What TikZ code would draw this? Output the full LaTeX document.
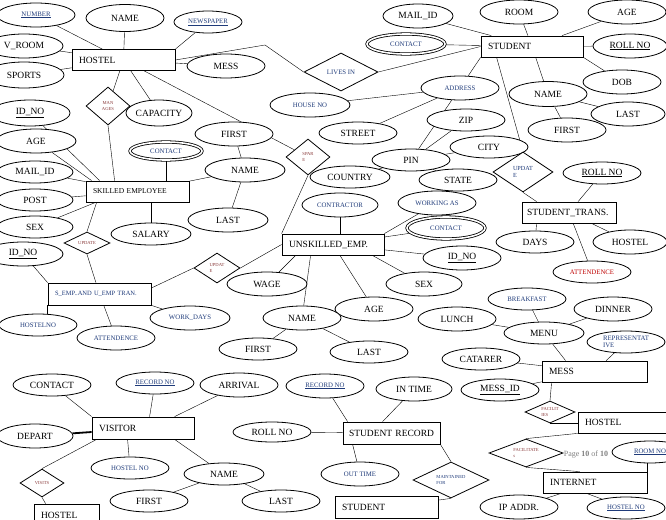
\documentclass[tikz,border=0pt]{standalone}
\usepackage{fontspec}
\setmainfont{Liberation Serif}
\usepackage{tikz}
\usetikzlibrary{shapes.geometric, backgrounds}

\definecolor{attrblue}{HTML}{1F3B7A}
\definecolor{relred}{HTML}{8A3B3B}
\newcommand{\attrfont}{\fontsize{9.5}{10}\selectfont}
\newcommand{\smallattrfont}{\fontsize{6.8}{7.5}\selectfont}
\newcommand{\relfont}{\fontsize{4.6}{5.5}\selectfont}

\begin{document}
\begin{tikzpicture}[
        x=1pt, y=-1pt,
        line width=0.8pt,
        attr/.style={ellipse, draw, fill=white, minimum width=78, minimum height=24, inner sep=0pt, font=\attrfont},
        sattr/.style={attr, font=\smallattrfont, text=attrblue},
        multi/.style={double, double distance=1.6pt},
        ent/.style={rectangle, draw, fill=white, minimum height=21, inner xsep=7pt, inner ysep=0pt, text width=#1, align=left, font=\attrfont},
        rel/.style={diamond, draw, fill=white, aspect=2, inner sep=0pt, align=center, font=\relfont, text=relred}]

    \useasboundingbox (0,0) rectangle (666,519);

    \node [sattr]                                       (number)    at (36,15)    {\underline{NUMBER}};
    \node [attr, minimum height=27]                     (hname)     at (125,18)   {NAME};
    \node [sattr, minimum width=68, minimum height=22]  (newspaper) at (208,22)   {\underline{NEWSPAPER}};
    \node [attr]                                        (vroom)     at (24,46)    {V\_ROOM};
    \node [attr, minimum width=80, minimum height=26]   (sports)    at (24,75)    {SPORTS};
    \node [ent=89pt]                                    (hostel)    at (123.5,60) {HOSTEL};
    \node [attr]                                        (hmess)     at (226,66)   {MESS};
    \node [rel, minimum width=44, minimum height=38]    (manages)   at (108,106)  {MAN\\AGES};
    \node [attr, minimum width=66, minimum height=26]   (capacity)  at (159,113)  {CAPACITY};
    \node [attr, minimum width=80, minimum height=26]   (idno1)     at (30,113)   {\underline{ID\_NO}};
    \coordinate (livesbend) at (265,45);

    \node [attr, minimum width=70]                      (mailid)    at (418,16)   {MAIL\_ID};
    \node [sattr, multi, minimum height=20]             (scontact)  at (406,44)   {CONTACT};
    \node [rel, text=attrblue, font=\smallattrfont, minimum width=74, minimum height=38] (livesin) at (341,72) {LIVES IN};
    \node [sattr, minimum width=80]                     (houseno)   at (310,105)  {HOUSE NO};
    \node [sattr]                                       (address)   at (460,88)   {ADDRESS};
    \node [attr]                                        (room)      at (519,12)   {ROOM};
    \node [attr]                                        (sage)      at (627,12)   {AGE};
    \node [ent=88pt]                                    (student)   at (532,46.5) {STUDENT};
    \node [attr, minimum width=74]                      (rollno)    at (630,46)   {\underline{ROLL NO}};
    \node [attr]                                        (dob)       at (622,82)   {DOB};
    \node [attr, minimum height=25]                     (sname)     at (548,94)   {NAME};
    \node [attr, minimum width=74]                      (slast)     at (628,114)  {LAST};
    \node [attr]                                        (sfirst)    at (567,130)  {FIRST};
    \node [attr, minimum height=22]                     (zip)       at (466,120)  {ZIP};
    \node [attr, minimum height=22]                     (street)    at (358,133)  {STREET};
    \node [attr, minimum height=22]                     (city)      at (489,147)  {CITY};
    \node [attr, minimum height=22]                     (pin)       at (411,160)  {PIN};
    \node [attr, minimum width=80, minimum height=22]   (country)   at (350,177)  {COUNTRY};
    \node [attr, minimum height=22]                     (state)     at (458,180)  {STATE};

    \node [attr, minimum width=80]                      (age1)      at (36,141)   {AGE};
    \node [attr, minimum width=76, minimum height=22]   (mail1)     at (35,172)   {MAIL\_ID};
    \node [attr, minimum width=76, minimum height=22]   (post)      at (35,200)   {POST};
    \node [attr, minimum width=76, minimum height=22]   (sex1)      at (35,227)   {SEX};
    \node [ent=89pt, font=\fontsize{7.5}{8}\selectfont] (skilled)   at (137.5,191.5) {\mbox{SKILLED EMPLOYEE}};
    \node [sattr, multi, minimum width=72, minimum height=18] (kcontact) at (166,151) {CONTACT};
    \node [attr, minimum width=80, minimum height=22]   (salary)    at (151,234)  {SALARY};
    \node [attr]                                        (kfirst)    at (234,134)  {FIRST};
    \node [attr, minimum width=80]                      (kname)     at (245,170)  {NAME};
    \node [attr, minimum width=80]                      (klast)     at (228,220)  {LAST};
    \node [rel, minimum width=46, minimum height=22]    (update1)   at (87,243)   {UPDATE};

    \node [rel, align=left, minimum width=44, minimum height=36] (spare) at (308,157) {SPAR\\E};
    \node [sattr, minimum width=76]                     (contractor) at (340,205) {CONTRACTOR};
    \node [ent=88pt]                                    (unskilled) at (333,244.5) {\mbox{UNSKILLED\_EMP.}};
    \node [sattr]                                       (workingas) at (437,203)  {WORKING AS};
    \node [sattr, multi, minimum height=22]             (ucontact)  at (446,228)  {CONTACT};
    \node [attr]                                        (idno2)     at (462,258)  {\underline{ID\_NO}};
    \node [attr, minimum width=76]                      (usex)      at (424,284)  {SEX};
    \node [attr]                                        (uage)      at (374,309)  {AGE};
    \node [attr]                                        (uname)     at (302,318)  {NAME};
    \node [attr, minimum height=22]                     (ufirst)    at (258,349)  {FIRST};
    \node [attr, minimum height=22]                     (ulast)     at (369,352)  {LAST};
    \node [attr, minimum width=80]                      (wage)      at (267,284)  {WAGE};
    \node [rel, align=left, minimum width=46, minimum height=30] (update2) at (217,268) {UPDAT\\E};

    \node [attr, minimum width=80]                      (idno3)     at (23,254)   {\underline{ID\_NO}};
    \node [ent=89pt, font=\fontsize{6.5}{7}\selectfont, text=attrblue, minimum height=22] (semp) at (99.5,294) {\mbox{S\_EMP..AND U\_EMP TRAN.}};
    \node [sattr, minimum height=22]                    (hostelno1) at (38,325)   {HOSTELNO};
    \node [sattr]                                       (attend1)   at (116,338)  {ATTENDENCE};
    \node [sattr, minimum width=80]                     (workdays)  at (190,318)  {WORK\_DAYS};

    \node [rel, align=left, text=attrblue, font=\fontsize{6.2}{7}\selectfont, minimum width=60, minimum height=40] (update3) at (523,172) {UPDAT\\E};
    \node [attr, minimum height=22]                     (rollno2)   at (602,173)  {\underline{ROLL NO}};
    \node [ent=84pt, inner xsep=5pt]                    (strans)    at (569,212.5) {\mbox{STUDENT\_TRANS.}};
    \node [attr, minimum height=22]                     (days)      at (535,242)  {DAYS};
    \node [attr, minimum width=74]                      (thostel)   at (630,242)  {HOSTEL};
    \node [sattr, text=red!75!black, minimum height=22] (attend2)   at (592,272)  {ATTENDENCE};

    \node [sattr, minimum height=22]                    (breakfast) at (527,299)  {BREAKFAST};
    \node [attr]                                        (dinner)    at (613,309)  {DINNER};
    \node [attr]                                        (lunch)     at (457,319)  {LUNCH};
    \node [attr, minimum width=80, minimum height=22]   (menu)      at (544,333)  {MENU};
    \node [sattr, minimum height=22, align=left]        (repr)      at (626,342)  {REPRESENTAT\\IVE};
    \node [attr, minimum height=22]                     (catarer)   at (481,359)  {CATARER};
    \node [ent=91pt]                                    (mess)      at (594.5,371.5) {MESS};
    \node [attr, minimum height=22]                     (messid)    at (500,390)  {\underline{MESS\_ID}};
    \node [rel, align=left, minimum width=50, minimum height=22] (facilit) at (550,412) {FACILIT\\IES};
    \node [ent=76pt]                                    (bhostel)   at (623,422.5) {HOSTEL};
    \node [rel, align=left, minimum width=74, minimum height=28] (facilitates) at (526,453) {FACILITATE\\s};
    \node [text=gray, font=\fontsize{8}{9}\selectfont, inner sep=0pt] (pagenum) at (586,455) {Page \textbf{10} of \textbf{10}};
    \node [sattr, minimum width=76, minimum height=22]  (roomno)    at (650,452)  {\underline{ROOM NO}};
    \node [ent=90pt]                                    (internet)  at (595,482.5) {INTERNET};
    \node [attr]                                        (ipaddr)    at (519,507)  {IP ADDR.};
    \node [sattr, minimum height=22]                    (hostelno3) at (626,508)  {\underline{HOSTEL NO}};

    \node [sattr]                                       (recno2)    at (325,386)  {\underline{RECORD NO}};
    \node [attr, minimum width=76]                      (intime)    at (414,389)  {IN TIME};
    \node [attr, minimum height=20]                     (rollno3)   at (272,432)  {ROLL NO};
    \node [ent=85pt, inner xsep=6pt, minimum height=22] (srecord)   at (391.5,433) {\mbox{STUDENT RECORD}};
    \node [sattr]                                       (outtime)   at (360,474)  {OUT TIME};
    \node [rel, align=left, text=attrblue, minimum width=76, minimum height=36] (maintained) at (451,480) {MAINTAINED\\FOR};
    \node [ent=89pt, minimum height=22]                 (bstudent)  at (386.5,507) {STUDENT};

    \node [attr, minimum height=22]                     (vcontact)  at (52,385)   {CONTACT};
    \node [sattr, minimum height=22]                    (recno1)    at (155,383)  {\underline{RECORD NO}};
    \node [attr]                                        (arrival)   at (239,385)  {ARRIVAL};
    \node [ent=88pt, minimum height=22]                 (visitor)   at (143,428)  {VISITOR};
    \node [attr, minimum width=76]                      (depart)    at (35,436)   {DEPART};
    \node [sattr, minimum height=22]                    (vhostelno) at (130,468)  {HOSTEL NO};
    \node [rel, minimum width=44, minimum height=28]    (visits)    at (42,483)   {VISITS};
    \node [ent=51pt, minimum height=22]                 (vhostel)   at (66.5,515) {HOSTEL};
    \node [attr, minimum width=80, minimum height=22]   (vname)     at (224,474)  {NAME};
    \node [attr, minimum height=22]                     (vfirst)    at (149,501)  {FIRST};
    \node [attr, minimum height=22]                     (vlast)     at (281,501)  {LAST};

    \begin{scope}[on background layer]
        \path (hostel) edge (number) edge (hname) edge (vroom) edge (sports)
                       edge (hmess) edge (manages) edge (capacity) edge (spare)
              (hostel.north east) edge (newspaper);
        \draw (hostel.east) -- (livesbend) -- (livesin.west);
        \path (livesin.east) edge (student.west)
              (student) edge (mailid) edge (scontact) edge (room) edge (sage)
                        edge (rollno) edge (sname)
              (student.south east) edge (dob)
              (student.south west) edge (address)
              ([xshift=16pt]student.south west) edge (update3.north)
              (sname) edge (slast) edge (sfirst)
              (address) edge (houseno) edge (street) edge (pin)
              (pin) edge (zip) edge (city) edge (country) edge (state);

        \path ([xshift=14pt]skilled.north west) edge (idno1)
              ([xshift=6pt]skilled.north west) edge (age1)
              ([xshift=29pt]skilled.north west) edge (manages.south)
              (skilled) edge (mail1) edge (post) edge (kname)
              ([xshift=10pt]skilled.south west) edge (sex1)
              ([xshift=11pt]skilled.south west) edge (update1.north)
              (kcontact.south) edge (kcontact.south |- skilled.north)
              (salary.north) edge (salary.north |- skilled.south)
              (kname) edge (kfirst) edge (klast);

        \path (spare.south) edge (unskilled.north west)
              (contractor.south) edge (contractor.south |- unskilled.north)
              (unskilled.north east) edge (workingas)
              (unskilled) edge (ucontact) edge (idno2) edge (uage)
              ([xshift=-12pt]unskilled.south east) edge (usex)
              ([xshift=29pt]unskilled.south west) edge (uname)
              ([xshift=14pt]unskilled.south west) edge (wage)
              (unskilled.west) edge (update2.east)
              (uname) edge (ufirst) edge (ulast);

        \path ([yshift=6pt]semp.east) edge (update2.west)
              (semp) edge (update1.south) edge (attend1)
              (semp.north west) edge (idno3)
              (semp.south west) edge (semp.south west |- hostelno1.north)
              (semp.south east) edge (workdays);

        \path (update3.south) edge ([xshift=15pt]strans.north west)
              (strans) edge (rollno2) edge (thostel) edge (attend2)
              ([xshift=15pt]strans.south west) edge (days);

        \path (menu) edge (breakfast) edge (dinner) edge (lunch)
                     edge ([xshift=24pt]mess.north west)
              (mess) edge (repr) edge (catarer) edge (messid)
              ([xshift=10pt]mess.south west) edge (facilit.north)
              (facilit.south) edge (facilit.south -| bhostel.west)
              (bhostel.south west) edge (facilitates.north)
              (facilitates.south) edge ([xshift=37pt]internet.north west)
              (internet.north east) edge (internet.north east |- roomno.south)
              (internet) edge (ipaddr)
              ([xshift=44pt]internet.south west) edge (hostelno3);

        \path ([xshift=5pt]srecord.north west) edge (recno2)
              ([xshift=40pt]srecord.north west) edge (intime)
              (srecord) edge (rollno3)
              ([xshift=10pt]srecord.south west) edge (outtime)
              (srecord.south east) edge (maintained.north)
              (maintained.south) edge (bstudent);

        \path (visitor.north west) edge (vcontact)
              ([xshift=58pt]visitor.north west) edge (recno1)
              ([xshift=83pt]visitor.north west) edge (arrival)
              ([yshift=-4pt]visitor.west) edge [line width=1.8pt] (depart)
              ([xshift=36pt]visitor.south west) edge (vhostelno)
              ([xshift=83pt]visitor.south west) edge (vname)
              ([xshift=5pt]visitor.south west) edge (visits.north)
              (visits.south) edge ([xshift=12pt]vhostel.north west)
              (vname) edge (vfirst) edge (vlast);
    \end{scope}
\end{tikzpicture}
\end{document}
